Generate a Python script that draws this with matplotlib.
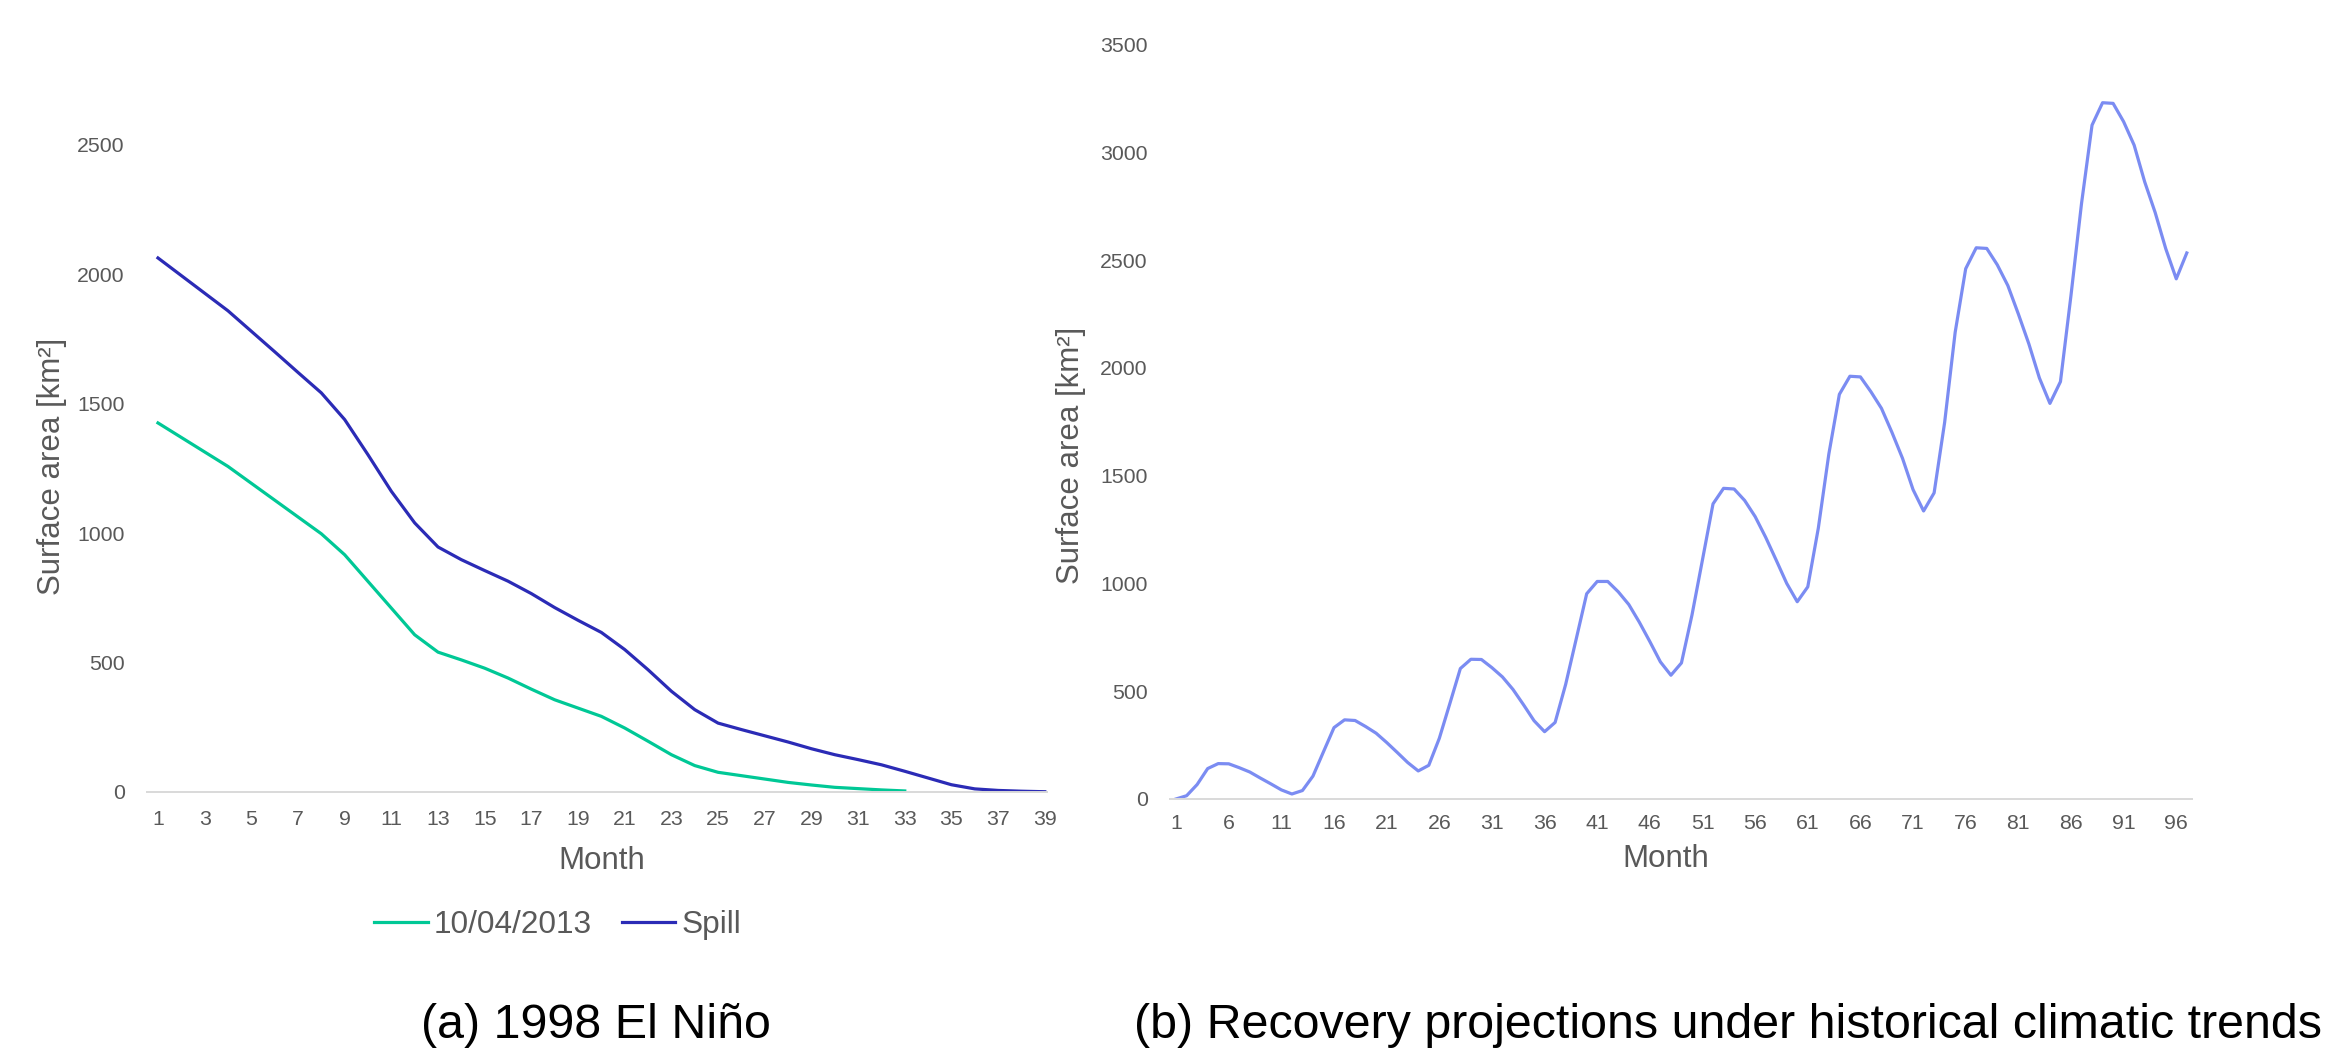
import matplotlib
matplotlib.use("Agg")
import matplotlib.pyplot as plt

plt.rcParams['font.family'] = ['Liberation Sans', 'DejaVu Sans']

# ---- data ----
# (a) 1998 El Nino, surface area per month
months_a = list(range(1, 40))
spill = [2062, 1994, 1926, 1858, 1779, 1700, 1620, 1541, 1438, 1302,
         1161, 1039, 946, 897, 855, 814, 766, 712, 663, 616,
         550, 472, 389, 318, 266, 241, 217, 193, 167, 144,
         125, 105, 80, 54, 28, 12, 6, 3, 1]
months_g = list(range(1, 34))
event_2013 = [1425, 1369, 1313, 1257, 1192, 1127, 1062, 997, 916, 813,
              710, 607, 540, 510, 478, 440, 397, 356, 324, 292,
              247, 196, 144, 102, 76, 63, 50, 37, 27, 18,
              13, 8, 4]

# (b) recovery projection
months_b = list(range(1, 98))
recovery = [0, 15, 67, 141, 164, 163, 145, 125, 97, 70,
            42, 23, 39, 106, 219, 331, 367, 364, 336, 305,
            262, 216, 169, 130, 156, 281, 442, 605, 648, 647,
            609, 566, 508, 437, 363, 312, 355, 531, 741, 952,
            1009, 1009, 961, 902, 820, 730, 636, 574, 631, 853,
            1110, 1369, 1441, 1438, 1385, 1310, 1214, 1108, 1000, 915,
            984, 1256, 1600, 1877, 1961, 1958, 1889, 1812, 1700, 1580,
            1435, 1336, 1420, 1747, 2165, 2460, 2557, 2554, 2478, 2382,
            2250, 2111, 1953, 1835, 1936, 2336, 2762, 3126, 3230, 3227,
            3142, 3033, 2863, 2720, 2553, 2413, 2533]

ticks_a = list(range(1, 40, 2))
ticks_b = list(range(1, 97, 5))
yticks_a = [0, 500, 1000, 1500, 2000, 2500]
yticks_b = [0, 500, 1000, 1500, 2000, 2500, 3000, 3500]

GRAY = '#595959'
GRID = '#D9D9D9'

fig = plt.figure(figsize=(23.29, 10.55), dpi=100)
ax1 = fig.add_axes([0.0631, 0.2493, 0.3864, 0.6137])
ax2 = fig.add_axes([0.5024, 0.2427, 0.4388, 0.7151])


def style(ax, xticks, yticks, xlim, ylim, xpad):
    for s in ['top', 'right', 'left']:
        ax.spines[s].set_visible(False)
    ax.spines['bottom'].set_color(GRID)
    ax.spines['bottom'].set_linewidth(1.4)
    ax.set_xticks(xticks)
    ax.set_yticks(yticks)
    ax.set_xlim(*xlim)
    ax.set_ylim(*ylim)
    ax.tick_params(length=0, labelsize=15.3, colors=GRAY)
    ax.tick_params(axis='x', pad=xpad)
    ax.tick_params(axis='y', pad=16)


ax1.plot(months_g, event_2013, color='#00C896', lw=2.3, label='10/04/2013')
ax1.plot(months_a, spill, color='#2B2BB6', lw=2.3, label='Spill')
style(ax1, ticks_a, yticks_a, (0.528, 39.09), (0, 2500), 13)

ax2.plot(months_b, recovery, color='#7B8CF2', lw=2.3)
style(ax2, ticks_b, yticks_b, (0.43, 97.5), (0, 3500), 11)

for ax, lx, ly, yx, yy in [(ax1, 0.5056, -0.1066, -0.106, 0.5035),
                           (ax2, 0.4853, -0.0795, -0.0965, 0.455)]:
    ax.set_xlabel('Month', fontsize=22.5, color=GRAY, va='center', ha='center')
    ax.xaxis.set_label_coords(lx, ly)
    ax.set_ylabel('Surface area [km²]', fontsize=22.5, color=GRAY,
                  va='center', ha='center')
    ax.yaxis.set_label_coords(yx, yy)

leg = ax1.legend(loc='center', bbox_to_anchor=(558 / 2329, 1 - 925 / 1055),
                 bbox_transform=fig.transFigure, ncol=2, frameon=False,
                 fontsize=22.8, handlelength=1.68, handletextpad=0.2,
                 columnspacing=0.95)
for t in leg.get_texts():
    t.set_color(GRAY)

fig.text(596 / 2329, 1 - 1026 / 1055, '(a) 1998 El Niño', fontsize=34.8,
         ha='center', va='center', color='black')
fig.text(1728 / 2329, 1 - 1026 / 1055,
         '(b) Recovery projections under historical climatic trends',
         fontsize=34.8, ha='center', va='center', color='black')

fig.savefig('out.png', dpi=100)
